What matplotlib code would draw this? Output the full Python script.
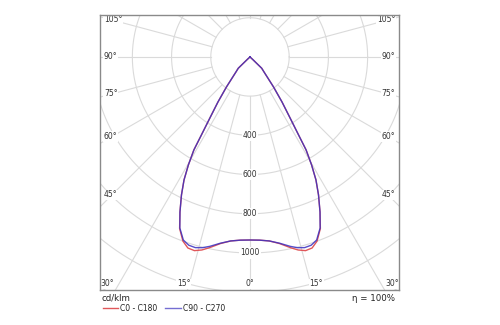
"""Polar luminous intensity diagram (cd/klm) for C0-C180 and C90-C270 planes."""
import numpy as np
import matplotlib
matplotlib.use("Agg")
import matplotlib.pyplot as plt

# gamma angle (deg, 0 = straight down) and intensity in cd/klm, one half of the curve
GAMMA = [0, 3, 6, 9, 12, 14, 16, 18, 20, 22.3, 24.3, 26.4, 28.2, 29.7, 31.1, 31.9,
         33.3, 35.4, 38.1, 40.5, 43, 46, 47, 48]
I_C90 = [934, 936, 944, 962, 988, 1003, 1012, 1010, 994, 943, 868, 786, 712, 634,
         554, 469, 372, 282, 194, 137, 105, 83, 20, 0]
I_C0 = [934, 936, 944, 964, 995, 1015, 1028, 1025, 1000, 946, 868, 786, 712, 634,
        554, 469, 372, 282, 194, 137, 105, 83, 20, 0]

RINGS = [200, 400, 600, 800, 1000, 1200, 1400]
RING_LABELS = [400, 600, 800, 1000]
SIDE_ANGLES = [45, 60, 75, 90, 105]
BOTTOM_ANGLES = [0, 15, 30]

GRID = "#dadada"
RED = "#e0575a"
BLUE = "#3a30c0"


def to_xy(gamma, inten):
    g = np.radians(np.asarray(gamma, dtype=float))
    r = np.asarray(inten, dtype=float)
    # mirror the half curve to both sides of the vertical axis
    x = np.concatenate([-(r * np.sin(g))[::-1], (r * np.sin(g))[1:]])
    y = np.concatenate([(-r * np.cos(g))[::-1], (-r * np.cos(g))[1:]])
    return x, y


fig = plt.figure(figsize=(5, 3.25), dpi=100)
ax = fig.add_axes([0.2, 0.1077, 0.598, 0.8462])
ax.set_xlim(-765, 760)
ax.set_ylim(-1189, 214)
ax.set_aspect("auto")
ax.set_xticks([])
ax.set_yticks([])
for s in ax.spines.values():
    s.set_color("#8a8a8a")
    s.set_linewidth(1.0)

# rings
t = np.linspace(0, 2 * np.pi, 400)
for r in RINGS:
    ax.plot(r * np.cos(t), r * np.sin(t), color=GRID, lw=0.8, zorder=1)

# radial lines every 15 degrees, starting at the inner ring
for a in range(0, 360, 15):
    g = np.radians(a)
    ax.plot([200 * np.sin(g), 1600 * np.sin(g)], [-200 * np.cos(g), -1600 * np.cos(g)],
            color=GRID, lw=0.8, zorder=1)

# ring values along the 0 degree line
for r in RING_LABELS:
    ax.text(0, -r, str(r), fontsize=5.5, ha="center", va="center", color="#333333",
            bbox=dict(boxstyle="square,pad=0.15", fc="white", ec="none"), zorder=2)

# angle labels on the left/right edges
xl = 704
for a in SIDE_ANGLES:
    y = -xl / np.tan(np.radians(a))
    ax.text(-765 + 20, y, f"{a}°", fontsize=5.5, ha="left", va="center", color="#333333",
            bbox=dict(boxstyle="square,pad=0.1", fc="white", ec="none"), zorder=2)
    ax.text(760 - 20, y, f"{a}°", fontsize=5.5, ha="right", va="center", color="#333333",
            bbox=dict(boxstyle="square,pad=0.1", fc="white", ec="none"), zorder=2)

# angle labels along the bottom edge
for a in BOTTOM_ANGLES:
    x = 1260 * np.tan(np.radians(a))
    sides = [x] if a == 0 else [-x, x]
    for xx in sides:
        ax.text(xx, -1158, f"{a}°", fontsize=5.5, ha="center", va="center", color="#333333",
                bbox=dict(boxstyle="square,pad=0.1", fc="white", ec="none"), zorder=2)

x0, y0 = to_xy(GAMMA, I_C0)
x90, y90 = to_xy(GAMMA, I_C90)
ax.plot(x0, y0, color=RED, lw=1.0, zorder=3, label="C0 - C180")
ax.plot(x90, y90, color=BLUE, lw=1.0, alpha=0.85, zorder=4, label="C90 - C270")

# footer: unit, efficiency and legend
fig.text(0.202, 0.083, "cd/klm", fontsize=6.2, ha="left", va="center", color="#222222")
fig.text(0.79, 0.083, "η = 100%", fontsize=6.2, ha="right", va="center", color="#222222")
fig.lines.append(plt.Line2D([0.206, 0.236], [0.052, 0.052], color=RED, lw=1.0,
                            transform=fig.transFigure))
fig.text(0.240, 0.052, "C0 - C180", fontsize=5.5, ha="left", va="center", color="#222222")
fig.lines.append(plt.Line2D([0.330, 0.362], [0.052, 0.052], color=BLUE, lw=1.0, alpha=0.7,
                            transform=fig.transFigure))
fig.text(0.366, 0.052, "C90 - C270", fontsize=5.5, ha="left", va="center", color="#222222")

fig.savefig("out.png", dpi=100, facecolor="white")
